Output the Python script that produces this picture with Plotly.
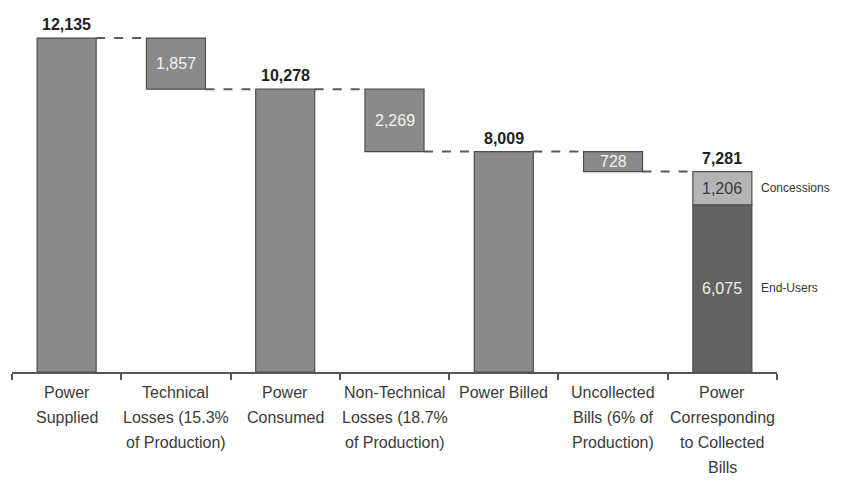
import plotly.graph_objects as go

categories = ["Power<br>Supplied", "Technical<br>Losses (15.3%<br>of Production)", "Power<br>Consumed",
              "Non-Technical<br>Losses (18.7%<br>of Production)", "Power Billed",
              "Uncollected<br>Bills (6% of<br>Production)", "Power<br>Corresponding<br>to Collected<br>Bills"]
step_types = ["total", "loss", "total", "loss", "total", "loss", "split"]
amounts = [12135, 1857, 10278, 2269, 8009, 728, 7281]
split_names = ["End-Users", "Concessions"]
split_values = [6075, 1206]

FONT = "Liberation Sans, Arial, sans-serif"
MAIN = "#8a8a8a"
EDGE = "#4d4d4d"
BW = 0.54

xs = list(range(len(categories)))
bases, heights = [], []
level = 0
levels_after = []
for i, (t, a) in enumerate(zip(step_types, amounts)):
    if t == "total":
        bases.append(0); heights.append(a); level = a
    elif t == "loss":
        bases.append(level - a); heights.append(a); level = level - a
    else:
        bases.append(None); heights.append(None)
    levels_after.append(level)

fig = go.Figure()
mx = [x for x, t in zip(xs, step_types) if t != "split"]
fig.add_trace(go.Bar(x=mx, y=[h for h, t in zip(heights, step_types) if t != "split"],
                     base=[b for b, t in zip(bases, step_types) if t != "split"],
                     width=BW, marker=dict(color=MAIN, line=dict(color=EDGE, width=1.2)),
                     hoverinfo="skip", showlegend=False))
split_x = xs[-1]
split_colors = ["#626262", "#b4b4b4"]
b0 = 0
split_bases = []
for v, c in zip(split_values, split_colors):
    split_bases.append(b0)
    fig.add_trace(go.Bar(x=[split_x], y=[v], base=[b0], width=BW,
                         marker=dict(color=c, line=dict(color=EDGE, width=1.2)),
                         hoverinfo="skip", showlegend=False))
    b0 += v

# connectors
for i, (t, a) in enumerate(zip(step_types, amounts)):
    if i < len(xs) - 1:
        y = a if t == "total" else levels_after[i]
        fig.add_shape(type="line", x0=i + BW / 2, x1=i + 1 - BW / 2, y0=y, y1=y,
                      line=dict(color="#5a5a5a", width=2, dash="dash"), layer="below")

ann = []
for i, (t, a) in enumerate(zip(step_types, amounts)):
    if t in ("total", "split"):
        ann.append(dict(x=i, y=a, text=f"<b>{a:,}</b>", showarrow=False, yanchor="bottom", yshift=3,
                        font=dict(family=FONT, size=16, color="#222222")))
    if t == "loss":
        ann.append(dict(x=i, y=bases[i] + a / 2, text=f"{a:,}", showarrow=False,
                        font=dict(family=FONT, size=16, color="#f2f2f2")))
for n, v, b, col in zip(split_names, split_values, split_bases, ["#eeeeee", "#3a3a3a"]):
    ann.append(dict(x=split_x, y=b + v / 2, text=f"{v:,}", showarrow=False,
                    font=dict(family=FONT, size=16, color=col)))
    ann.append(dict(x=split_x + BW / 2, y=b + v / 2, text=n, showarrow=False, xanchor="left", xshift=7,
                    font=dict(family=FONT, size=12, color="#333333")))
for i, c in enumerate(categories):
    for k, line in enumerate(c.split("<br>")):
        ann.append(dict(x=i, y=0, yref="y", text=line, showarrow=False, yanchor="middle",
                        yshift=-20 - 25 * k,
                        font=dict(family=FONT, size=16, color="#3a3a3a")))

fig.update_layout(
    width=834, height=473, margin=dict(l=4, r=65, t=12, b=109),
    paper_bgcolor="white", plot_bgcolor="white", barmode="overlay",
    annotations=ann,
    xaxis=dict(range=[-0.5, 6.5], tickvals=[x - 0.5 for x in xs] + [6.5], ticks="outside", ticklen=6,
               tickcolor="#555555", tickwidth=1.5, showticklabels=False, showline=True,
               linecolor="#555555", linewidth=1.5, showgrid=False, zeroline=False, fixedrange=True),
    yaxis=dict(range=[0, 12790], visible=False, showgrid=False, zeroline=False, fixedrange=True),
)
fig.write_html("out.html")
